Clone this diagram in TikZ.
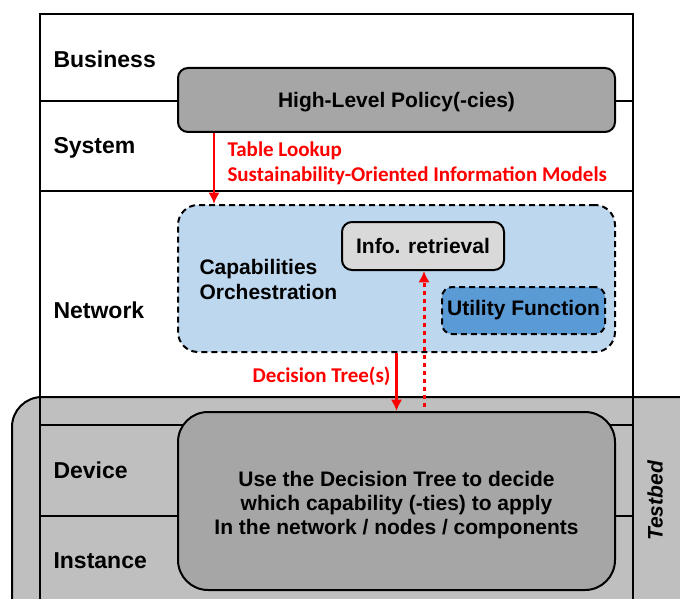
\documentclass[tikz,border=0pt]{standalone}
\usepackage{fontspec}
\setmainfont{Liberation Sans}
\newfontfamily\calfont{Carlito}
\usetikzlibrary{arrows.meta}

\definecolor{policygray}{HTML}{A6A6A6}
\definecolor{testgray}{HTML}{BFBFBF}
\definecolor{orchblue}{HTML}{BDD7EE}
\definecolor{infogray}{HTML}{D9D9D9}
\definecolor{utilblue}{HTML}{5B9BD5}
\definecolor{arrowred}{HTML}{FF0000}

\begin{document}
\begin{tikzpicture}[x=1pt, y=-1pt,
	>={Latex[width=4mm,length=4mm]},
    layer/.style = {anchor=west, font=\bfseries\fontsize{23}{27}\selectfont},
    box/.style = {rectangle, rounded corners=10pt, draw=black, line width=2pt,
                  align=center, inner sep=0pt, font=\bfseries\fontsize{21}{24}\selectfont},
    policy/.style = {box, fill=policygray},
    orch/.style = {box, dash pattern=on 6pt off 4pt, rounded corners=20pt, fill=orchblue},
    info/.style = {box, fill=infogray},
    util/.style = {box, dash pattern=on 6pt off 4pt, fill=utilblue},
    redtext/.style = {text=arrowred, font=\calfont\bfseries\fontsize{21}{25}\selectfont},
    flow/.style = {->, draw=arrowred, line width=2.5pt}]
  \useasboundingbox (0,0) rectangle (680,599);
  \clip (0,0) rectangle (680,599);

  % testbed band and layer frame
  \node (testbed) [box, rounded corners=30pt, fill=testgray,
                   minimum width=720pt, minimum height=250pt] at (372,522) {};
  \draw[line width=2pt] (40,620) -- (40,14) -- (633,14) -- (633,620);
  \draw[line width=2pt] (40,101) -- (633,101)
                        (40,191) -- (633,191)
                        (40,425) -- (633,425)
                        (40,516) -- (633,516);

  \node (business) [layer] at (50,59) {Business};
  \node (system) [layer] at (50,148) {System};
  \node (network) [layer] at (50,310) {Network};
  \node (device) [layer] at (50,470) {Device};
  \node (instance) [layer] at (50,561) {Instance};
  \node (tblabel) [rotate=90, font=\bfseries\itshape\fontsize{21}{24}\selectfont]
        at (655,501) {Testbed};

  % boxes
  \node (policy) [policy, minimum width=437pt, minimum height=64pt] at (396.5,100) {};
  \node (policytext) [font=\bfseries\fontsize{21}{24}\selectfont]
        at ([yshift=-2pt]policy.center) {High-Level Policy(-cies)};
  \node (orch) [orch, minimum width=437pt, minimum height=147pt] at (396.5,278.5) {};
  \node (caps) [anchor=west, align=left, font=\bfseries\fontsize{21}{25}\selectfont]
        at (196,279) {Capabilities\\Orchestration};
  \node (info) [info, minimum width=162pt, minimum height=48pt]
        at (423,246) {Info. retrieval};
  \node (util) [util, minimum width=163pt, minimum height=47pt]
        at (523.5,310.5) {Utility Function};
  \node (decide) [policy, rounded corners=30pt, minimum width=437pt, minimum height=178pt]
        at (396.5,501) {};
  \node (decidetext) [align=center, font=\bfseries\fontsize{21}{24}\selectfont]
        at ([yshift=-4pt]decide.center)
        {Use the Decision Tree to decide\\which capability (-ties) to apply\\In the network / nodes / components};

  % red flows
  \node (lookup) [redtext, anchor=west, align=left] at (224,163)
        {Table Lookup\\Sustainability-Oriented Information Models};
  \node (dtree) [redtext, anchor=east] at (394,376) {Decision Tree(s)};
  \coordinate (feed) at (424,407);

  \draw[flow] ([xshift=37pt]policy.south west) -- ([xshift=37pt]orch.north west);
  \draw[flow] (orch.south) -- (decide.north);
  \draw[flow, line width=3pt, dash pattern=on 4pt off 4pt] (feed) -- (feed |- info.south);
 \end{tikzpicture}
\end{document}
